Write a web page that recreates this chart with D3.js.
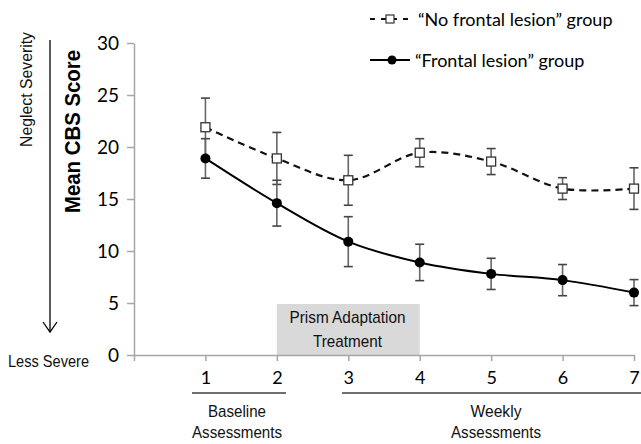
<!DOCTYPE html>
<html>
<head>
<meta charset="utf-8">
<script src="https://cdn.jsdelivr.net/npm/d3@7"></script>
<style>
  body { margin: 0; background: #fff; }
  svg { display: block; }
  .calib { font-family: Lato, "Open Sans", sans-serif; fill: #000; }
  .narrow { font-family: "Liberation Sans", Arial, sans-serif; fill: #111; }
</style>
</head>
<body>
<div id="chart"></div>
<script>
// assessment sessions and group means / error bars
const sessions = [1, 2, 3, 4, 5, 6, 7];
const noFrontalMean = [21.9, 18.9, 16.8, 19.45, 18.6, 16.0, 16.0];
const noFrontalErr  = [2.8, 2.5, 2.4, 1.35, 1.25, 1.05, 2.0];
const frontalMean   = [18.9, 14.6, 10.9, 8.9, 7.8, 7.2, 6.0];
const frontalErr    = [1.9, 2.2, 2.4, 1.75, 1.5, 1.5, 1.25];
const yTicks = [0, 5, 10, 15, 20, 25, 30];
const legendLabels = ["\u201CNo frontal lesion\u201D group", "\u201CFrontal lesion\u201D group"];

const width = 641, height = 444;

const svg = d3.select("#chart").append("svg")
    .attr("width", width)
    .attr("height", height);

const x = d3.scaleLinear().domain([0, 7]).range([134, 634]);
const y = d3.scaleLinear().domain([0, 30]).range([355, 43]);

// condensed text helper (squeezes to the measured width)
function narrowText(px, py, str, len, size, anchor) {
    return svg.append("text").attr("class", "narrow")
        .attr("x", px).attr("y", py)
        .attr("text-anchor", anchor || "middle")
        .attr("font-size", size || 17)
        .attr("textLength", len)
        .attr("lengthAdjust", "spacingAndGlyphs")
        .text(str);
}

// treatment box (between session 2 and 4)
svg.append("rect")
    .attr("x", x(2))
    .attr("y", 304)
    .attr("width", x(4) - x(2))
    .attr("height", y(0) - 304)
    .attr("fill", "#d9d9d9");
narrowText(347.5, 323, "Prism Adaptation", 116);
narrowText(347.5, 347, "Treatment", 69);

// axes
const yAxis = svg.append("g")
    .attr("transform", `translate(${x(0)},0)`)
    .call(d3.axisLeft(y).tickValues(yTicks).tickSize(7).tickSizeOuter(0).tickPadding(8));
const xAxis = svg.append("g")
    .attr("transform", `translate(0,${y(0)})`)
    .call(d3.axisBottom(x).tickValues(d3.range(0, 8)).tickSize(6).tickSizeOuter(0).tickPadding(10)
        .tickFormat(d => d === 0 ? "" : d));

[yAxis, xAxis].forEach(g => {
    g.select(".domain").attr("stroke", "#a6a6a6").attr("stroke-width", 1.5);
    g.selectAll(".tick line").attr("stroke", "#a6a6a6").attr("stroke-width", 1.5);
    g.selectAll(".tick text")
        .attr("font-family", "Lato, 'Open Sans', sans-serif")
        .attr("fill", "#000");
});
yAxis.selectAll(".tick text").attr("font-size", 19);
xAxis.selectAll(".tick text").attr("font-size", 18);

// error bars
function errorBars(means, errs, cls) {
    const g = svg.append("g").attr("class", cls);
    const data = sessions.map((s, i) => ({ s, m: means[i], e: errs[i] }));
    g.selectAll("line.v").data(data).enter().append("line")
        .attr("x1", d => x(d.s)).attr("x2", d => x(d.s))
        .attr("y1", d => y(d.m + d.e)).attr("y2", d => y(d.m - d.e))
        .attr("stroke", "#666").attr("stroke-width", 1.6);
    ["top", "bot"].forEach(k => {
        g.selectAll("line." + k).data(data).enter().append("line")
            .attr("x1", d => x(d.s) - 4.5).attr("x2", d => x(d.s) + 4.5)
            .attr("y1", d => y(k === "top" ? d.m + d.e : d.m - d.e))
            .attr("y2", d => y(k === "top" ? d.m + d.e : d.m - d.e))
            .attr("stroke", "#444").attr("stroke-width", 1.6);
    });
}
errorBars(noFrontalMean, noFrontalErr, "err-nf");
errorBars(frontalMean, frontalErr, "err-f");

// lines
const line = d3.line()
    .x(d => x(d[0]))
    .y(d => y(d[1]))
    .curve(d3.curveCatmullRom.alpha(0.5));

svg.append("path")
    .datum(sessions.map((s, i) => [s, noFrontalMean[i]]))
    .attr("d", line)
    .attr("fill", "none")
    .attr("stroke", "#111")
    .attr("stroke-width", 2.2)
    .attr("stroke-dasharray", "7,5");

svg.append("path")
    .datum(sessions.map((s, i) => [s, frontalMean[i]]))
    .attr("d", line)
    .attr("fill", "none")
    .attr("stroke", "#000")
    .attr("stroke-width", 2);

// markers
svg.selectAll("rect.nf").data(sessions).enter().append("rect")
    .attr("class", "nf")
    .attr("x", (d, i) => x(d) - 4.5)
    .attr("y", (d, i) => y(noFrontalMean[i]) - 4.5)
    .attr("width", 9).attr("height", 9)
    .attr("fill", "#fff").attr("stroke", "#333").attr("stroke-width", 1.3);

svg.selectAll("circle.f").data(sessions).enter().append("circle")
    .attr("class", "f")
    .attr("cx", d => x(d))
    .attr("cy", (d, i) => y(frontalMean[i]))
    .attr("r", 5)
    .attr("fill", "#000");

// brackets under x labels
svg.append("line").attr("x1", 192).attr("x2", 286).attr("y1", 393).attr("y2", 393)
    .attr("stroke", "#404040").attr("stroke-width", 1.6);
svg.append("line").attr("x1", 342).attr("x2", 641).attr("y1", 393).attr("y2", 393)
    .attr("stroke", "#404040").attr("stroke-width", 1.6);

narrowText(237, 417, "Baseline", 58);
narrowText(237, 438, "Assessments", 90);
narrowText(496, 417, "Weekly", 51);
narrowText(496, 438, "Assessments", 90);

// severity arrow on the left
svg.append("line").attr("x1", 50).attr("x2", 50).attr("y1", 40).attr("y2", 332)
    .attr("stroke", "#000").attr("stroke-width", 1.3);
svg.append("path").attr("d", "M43,322 L50,332 L57,322")
    .attr("fill", "none").attr("stroke", "#000").attr("stroke-width", 1.3);

narrowText(0, 0, "Neglect  Severity", 115, 16)
    .attr("transform", "translate(32,89.5) rotate(-90)");
narrowText(8, 367, "Less Severe", 81, 16.5, "start");

svg.append("text")
    .attr("transform", "translate(80,131.5) rotate(-90)")
    .attr("text-anchor", "middle")
    .attr("font-family", "'Liberation Sans', Arial, sans-serif")
    .attr("font-weight", "bold")
    .attr("font-size", 22)
    .attr("textLength", 163)
    .attr("lengthAdjust", "spacingAndGlyphs")
    .text("Mean CBS Score");

// legend
const legend = svg.append("g");
legend.append("line").attr("x1", 370).attr("x2", 414).attr("y1", 19).attr("y2", 19)
    .attr("stroke", "#111").attr("stroke-width", 2).attr("stroke-dasharray", "5,6");
legend.append("rect").attr("x", 386).attr("y", 15).attr("width", 8).attr("height", 8)
    .attr("fill", "#fff").attr("stroke", "#333").attr("stroke-width", 1.2);
legend.append("text").attr("class", "calib")
    .attr("x", 418).attr("y", 26).attr("font-size", 18)
    .text(legendLabels[0]);

legend.append("line").attr("x1", 370).attr("x2", 410).attr("y1", 60).attr("y2", 60)
    .attr("stroke", "#000").attr("stroke-width", 2);
legend.append("circle").attr("cx", 392).attr("cy", 60).attr("r", 4.5).attr("fill", "#000");
legend.append("text").attr("class", "calib")
    .attr("x", 415).attr("y", 67).attr("font-size", 18)
    .text(legendLabels[1]);
</script>
</body>
</html>
